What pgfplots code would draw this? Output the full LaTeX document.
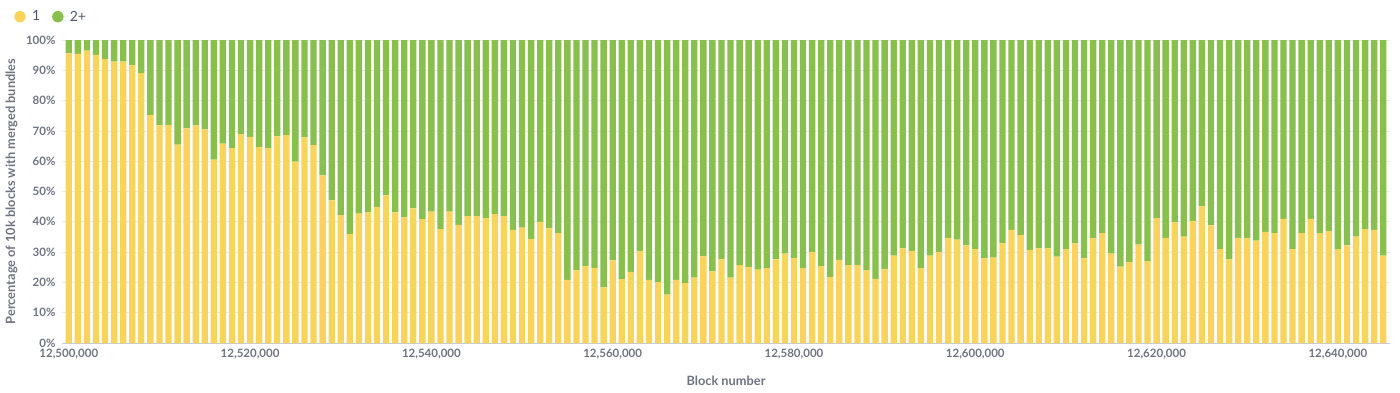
\documentclass[border=0pt]{standalone}
\usepackage{pgfplots}
\pgfplotsset{compat=1.18}
\usepackage{pgfplotstable}
\usepackage{fontspec}
\setmainfont{Lato}
\definecolor{cone}{HTML}{F9D45C}
\definecolor{ctwo}{HTML}{88BF4D}
\definecolor{tickc}{HTML}{6E7482}
\definecolor{labc}{HTML}{6E7482}
\definecolor{gridc}{HTML}{ECECEC}
\definecolor{legc}{HTML}{4C5773}

\pgfplotstableread{
x one two
0 95.6 4.4
1 95.4 4.6
2 96.5 3.5
3 95.1 4.9
4 93.7 6.3
5 92.9 7.1
6 92.9 7.1
7 91.6 8.4
8 89.1 10.9
9 75.2 24.8
10 71.8 28.2
11 72.0 28.0
12 65.5 34.5
13 70.8 29.2
14 71.8 28.2
15 70.5 29.5
16 60.5 39.5
17 65.8 34.2
18 64.3 35.7
19 68.9 31.1
20 68.0 32.0
21 64.7 35.3
22 64.3 35.7
23 68.2 31.8
24 68.6 31.4
25 59.9 40.1
26 67.9 32.1
27 65.3 34.7
28 55.3 44.7
29 47.1 52.9
30 42.2 57.8
31 35.9 64.1
32 42.7 57.3
33 43.1 56.9
34 44.9 55.1
35 48.7 51.3
36 43.1 56.9
37 41.5 58.5
38 44.4 55.6
39 40.9 59.1
40 43.4 56.6
41 37.6 62.4
42 43.4 56.6
43 39.0 61.0
44 41.9 58.1
45 41.9 58.1
46 41.2 58.8
47 42.5 57.5
48 41.9 58.1
49 37.3 62.7
50 38.1 61.9
51 34.4 65.6
52 40.0 60.0
53 37.8 62.2
54 36.3 63.7
55 20.8 79.2
56 24.0 76.0
57 25.4 74.6
58 24.8 75.2
59 18.4 81.6
60 27.3 72.7
61 21.1 78.9
62 23.5 76.5
63 30.4 69.6
64 20.8 79.2
65 20.1 79.9
66 16.0 84.0
67 20.8 79.2
68 19.8 80.2
69 21.6 78.4
70 28.6 71.4
71 23.6 76.4
72 27.6 72.4
73 21.6 78.4
74 25.7 74.3
75 25.1 74.9
76 24.2 75.8
77 24.7 75.3
78 27.6 72.4
79 29.5 70.5
80 28.1 71.9
81 24.7 75.3
82 30.1 69.9
83 25.4 74.6
84 21.8 78.2
85 27.4 72.6
86 25.7 74.3
87 25.7 74.3
88 24.0 76.0
89 21.2 78.8
90 24.5 75.5
91 28.8 71.2
92 31.2 68.8
93 30.4 69.6
94 24.7 75.3
95 28.8 71.2
96 30.1 69.9
97 34.7 65.3
98 34.1 65.9
99 32.2 67.8
100 31.0 69.0
101 27.9 72.1
102 28.2 71.8
103 32.9 67.1
104 37.3 62.7
105 35.6 64.4
106 30.7 69.3
107 31.2 68.8
108 31.2 68.8
109 28.5 71.5
110 31.0 69.0
111 32.9 67.1
112 27.9 72.1
113 34.7 65.3
114 36.3 63.7
115 29.5 70.5
116 25.2 74.8
117 26.7 73.3
118 32.5 67.5
119 27.0 73.0
120 41.2 58.8
121 34.7 65.3
122 39.8 60.2
123 35.1 64.9
124 40.3 59.7
125 45.1 54.9
126 38.8 61.2
127 31.0 69.0
128 27.6 72.4
129 34.7 65.3
130 34.7 65.3
131 33.8 66.2
132 36.7 63.3
133 36.3 63.7
134 41.0 59.0
135 31.0 69.0
136 36.3 63.7
137 41.0 59.0
138 36.3 63.7
139 36.9 63.1
140 31.0 69.0
141 32.2 67.8
142 35.1 64.9
143 37.6 62.4
144 37.3 62.7
145 28.8 71.2
}\data

\begin{document}
\begin{tikzpicture}[x=1pt,y=1pt]
\useasboundingbox (0,0) rectangle (1400,392);
\begin{axis}[
  at={(62pt,49pt)}, anchor=south west,
  scale only axis, width=1328pt, height=303pt,
  xmin=-0.75, xmax=145.75, ymin=0, ymax=100,
  ybar stacked, bar width=0.7,
  xtick={0,20,40,60,80,100,120,140},
  xticklabels={{12,500,000},{12,520,000},{12,540,000},{12,560,000},{12,580,000},{12,600,000},{12,620,000},{12,640,000}},
  ytick={0,10,20,30,40,50,60,70,80,90,100},
  yticklabels={0\%,10\%,20\%,30\%,40\%,50\%,60\%,70\%,80\%,90\%,100\%},
  ymajorgrids, grid style={gridc, line width=0.8pt},
  axis lines*=left,
  x axis line style={draw=gridc!70!gray, line width=0.8pt},
  y axis line style={draw=none},
  major tick length=0pt,
  tick label style={font=\bfseries\fontsize{11.5}{13}\selectfont, text=tickc},
  yticklabel style={xshift=-3pt},
  xticklabel style={yshift=-3pt},
  xlabel={Block number},
  ylabel={Percentage of 10k blocks with merged bundles},
  label style={font=\bfseries\fontsize{12.8}{15}\selectfont, text=labc},
  xlabel style={at={(axis description cs:0.5,0)}, anchor=north, yshift=-29pt},
  ylabel style={at={(axis description cs:0,0.5)}, anchor=south, xshift=0pt, yshift=41pt},
  legend columns=2,
  legend style={draw=none, fill=none, at={(axis description cs:-0.0383,1.110)}, anchor=north west,
    font=\fontsize{14}{16}\selectfont, text=legc,
    /tikz/every even column/.append style={column sep=10pt}},
  legend image code/.code={\fill[#1] (0pt,0pt) circle (5.7pt); \path (-5.7pt,0pt) -- (10pt,0pt);},
]
\addplot[fill=cone, draw=none] table[x=x, y=one] {\data};
\addplot[fill=ctwo, draw=none] table[x=x, y=two] {\data};
\legend{1, 2+}
\end{axis}
\end{tikzpicture}
\end{document}
